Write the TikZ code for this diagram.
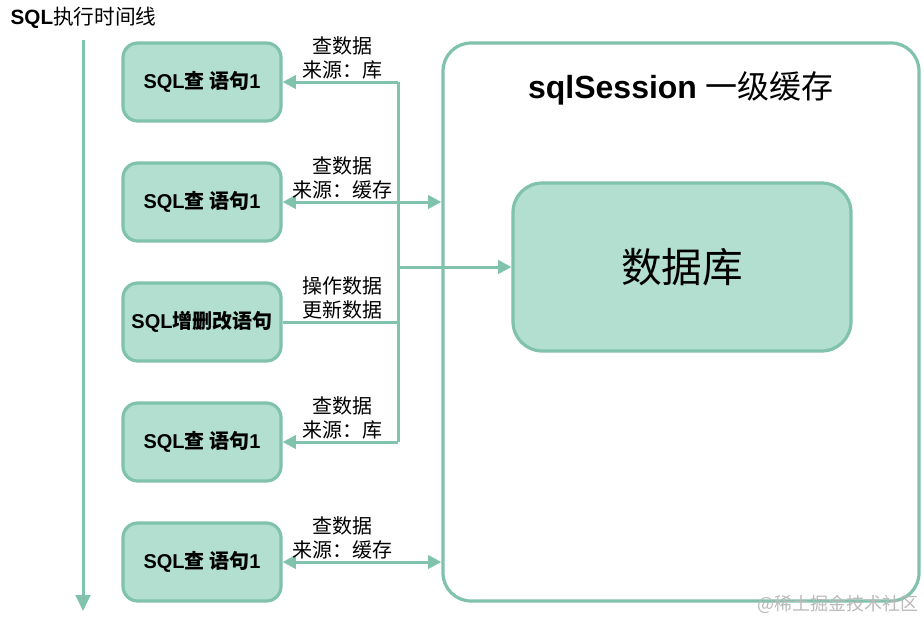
\documentclass[tikz,border=0pt]{standalone}
\usepackage{fontspec}
\setmainfont{Liberation Sans}
\newfontfamily\cjk{Noto Sans CJK SC}
\usetikzlibrary{arrows.meta}
\definecolor{boxfill}{HTML}{B3DFD1}
\definecolor{boxline}{HTML}{80C2AB}

\begin{document}
\begin{tikzpicture}[x=0.75pt,y=-0.75pt,line join=round,
  sqlbox/.style={draw=boxline,fill=boxfill,line width=2.4pt,rounded corners=11pt,
    minimum width=118.5pt,minimum height=58.5pt,font=\fontsize{15}{18}\selectfont},
  flow/.style={draw=boxline,line width=2.25pt},
  lbl/.style={align=center,font=\cjk\fontsize{15}{18}\selectfont},
  >={Triangle[length=10pt,width=10pt]}]
  \useasboundingbox (0,0) rectangle (924,621);

  % time line
  \node[anchor=west,font=\fontsize{15.5}{18}\selectfont] (title) at (6,18) {\textbf{SQL}{\cjk 执行时间线}};
  \coordinate (t0) at (83,40);
  \coordinate (t1) at (83,611);
  \draw[flow,-{Triangle[length=12pt,width=11pt]}] (t0) -- (t1);

  % sql statements
  \node[sqlbox] (q1) at (202,82) {\textbf{SQL}{\cjk\bfseries 查 语句}\textbf{1}};
  \node[sqlbox] (q2) at (202,202) {\textbf{SQL}{\cjk\bfseries 查 语句}\textbf{1}};
  \node[sqlbox] (q3) at (202,322) {\textbf{SQL}{\cjk\bfseries 增删改语句}};
  \node[sqlbox] (q4) at (202,442) {\textbf{SQL}{\cjk\bfseries 查 语句}\textbf{1}};
  \node[sqlbox] (q5) at (202,562) {\textbf{SQL}{\cjk\bfseries 查 语句}\textbf{1}};

  % sqlSession cache
  \node[draw=boxline,fill=white,line width=2.4pt,rounded corners=21pt,
    minimum width=357pt,minimum height=418.5pt] (session) at (681,322) {};
  \node[font=\fontsize{24}{28}\selectfont] (stitle) at (681,88) {\textbf{sqlSession} {\cjk 一级缓存}};
  \node[sqlbox,rounded corners=22pt,minimum width=253.5pt,minimum height=126pt,
    font=\cjk\fontsize{30.5}{34}\selectfont] (db) at (682,267) {数据库};

  % bus
  \coordinate (b1) at (398,82);
  \coordinate (b0) at (398,267);
  \coordinate (b3) at (398,322);
  \coordinate (b4) at (398,442);
  \draw[flow] (b1) -- (b4);
  \draw[flow,->] (b1) -- (q1.east);
  \draw[flow,<->] (q2.east) -- (q2.east -| session.west);
  \draw[flow] (q3.east) -- (b3);
  \draw[flow,->] (b0) -- (db.west);
  \draw[flow,->] (b4) -- (q4.east);
  \draw[flow,<->] (q5.east) -- (q5.east -| session.west);

  % labels
  \node[lbl] (l1) at (342,58) {查数据\\来源：库};
  \node[lbl] (l2) at (342,178) {查数据\\来源：缓存};
  \node[lbl] (l3) at (342,298) {操作数据\\更新数据};
  \node[lbl] (l4) at (342,418) {查数据\\来源：库};
  \node[lbl] (l5) at (342,538) {查数据\\来源：缓存};

  \node[text=gray!55,font=\cjk\fontsize{13.5}{16}\selectfont] (mark) at (838,604) {@稀土掘金技术社区};
\end{tikzpicture}
\end{document}
